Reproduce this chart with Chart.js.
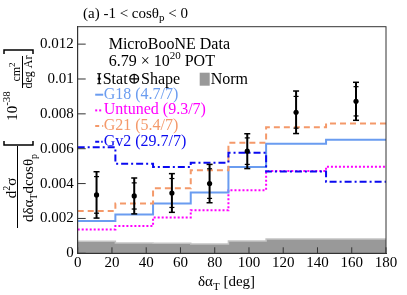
<!DOCTYPE html>
<html><head><meta charset="utf-8">
<script src="https://cdn.jsdelivr.net/npm/chart.js@4"></script>
<style>html,body{margin:0;padding:0;background:#fff}#box{width:407px;height:295px}</style>
</head><body><div id="box"><canvas id="c" width="407" height="295"></canvas></div>
<script>
const SERIF="'Liberation Serif','DejaVu Serif',serif";
const edges=[0,22,44,66,88,110,145,180];
const dataY=[0.00335,0.00329,0.00346,0.0040,0.00586,0.00809,0.00872];
const errTot=[0.00133,0.00103,0.00111,0.0011,0.0010,0.00122,0.00109];
const errStat=[0.00105,0.00075,0.00083,0.00085,0.00076,0.00091,0.00084];
const norm=[0.00069,0.00059,0.00058,0.00053,0.0007,0.00082,0.00082];
const g18=[0.00186,0.00223,0.00286,0.00349,0.00495,0.00629,0.00651];
const untuned=[0.00137,0.00156,0.00206,0.00247,0.00362,0.00472,0.00497];
const g21=[0.00242,0.00286,0.00373,0.00476,0.00634,0.00723,0.00745];
const gv2=[0.00609,0.00514,0.00495,0.0052,0.00577,0.0047,0.00411];
const yTicks=[0,0.002,0.004,0.006,0.008,0.01,0.012];
const xTicks=[0,20,40,60,80,100,120,140,160,180];

const C_G18="#6a9cf0",C_UN="#ff00ff",C_G21="#f4996a",C_GV2="#0a0af0",C_NORM="#999999";
const centers=dataY.map((_,i)=>(edges[i]+edges[i+1])/2);
const hist=v=>edges.map((e,i)=>({x:e,y:v[Math.min(i,v.length-1)]}));
const step=(label,v,col,dash,order)=>({label,data:hist(v),borderColor:col,borderWidth:2,borderDash:dash,
  stepped:true,pointRadius:0,fill:false,order});

// rich text: parts = [text, size, dy]
function rich(ctx,parts,x,y,align){
  let w=0;
  parts.forEach(p=>{ctx.font=p[1]+"px "+SERIF;w+=ctx.measureText(p[0]).width;});
  let cx=align==="center"?x-w/2:x;
  parts.forEach(p=>{ctx.font=p[1]+"px "+SERIF;ctx.fillText(p[0],cx,y+(p[2]||0));cx+=ctx.measureText(p[0]).width;});
  return w;
}
function rot(ctx,parts,sx,sy){
  ctx.save();ctx.translate(sx,sy);ctx.rotate(-Math.PI/2);rich(ctx,parts,0,0,"center");ctx.restore();
}
function line(ctx,x1,y1,x2,y2,col,w,dash){
  ctx.save();ctx.strokeStyle=col;ctx.lineWidth=w;ctx.setLineDash(dash||[]);
  ctx.beginPath();ctx.moveTo(x1,y1);ctx.lineTo(x2,y2);ctx.stroke();ctx.restore();
}

const deco={id:"deco",
  afterDatasetsDraw(ch){
    const ctx=ch.ctx,xs=ch.scales.x,ys=ch.scales.y;
    // error bars
    dataY.forEach((v,i)=>{
      const x=xs.getPixelForValue(centers[i]);
      const t=ys.getPixelForValue(v+errTot[i]),b=ys.getPixelForValue(v-errTot[i]);
      line(ctx,x,t,x,b,"#000",2);
      line(ctx,x-3,t,x+3,t,"#000",1.5);line(ctx,x-3,b,x+3,b,"#000",1.5);
      const st=ys.getPixelForValue(v+errStat[i]),sb=ys.getPixelForValue(v-errStat[i]);
      line(ctx,x-2.5,st,x+2.5,st,"#000",1.2);line(ctx,x-2.5,sb,x+2.5,sb,"#000",1.2);
    });
  },
  afterDraw(ch){
    const ctx=ch.ctx,a=ch.chartArea,xs=ch.scales.x,ys=ch.scales.y;
    ctx.save();
    // frame + inward ticks
    ctx.strokeStyle="#333";ctx.lineWidth=1;ctx.strokeRect(a.left,a.top,a.right-a.left,a.bottom-a.top);
    yTicks.forEach(t=>{const y=ys.getPixelForValue(t);line(ctx,a.left,y,a.left+8,y,"#333",1);});
    xTicks.forEach(t=>{const x=xs.getPixelForValue(t);line(ctx,x,a.bottom,x,a.bottom-6,"#333",1);});
    ctx.fillStyle="#000";ctx.textBaseline="alphabetic";
    // title
    rich(ctx,[["(a) -1 < cos\u03b8",15],["p",11,3],[" < 0",15]],83,18,"left");
    // x title
    rich(ctx,[["\u03b4\u03b1",15],["T",11,4],[" [deg]",15]],198,286,"left");
    // y title
    rot(ctx,[["d",15],["2",10,-6],["\u03c3",15]],16,188);
    line(ctx,17.5,146,17.5,228,"#000",1);
    rot(ctx,[["d\u03b4\u03b1",15],["T",10,4],["dcos\u03b8",15],["p",10,4]],33,188);
    rot(ctx,[["10",15],["-38",11,-7]],16.5,106);
    rot(ctx,[["cm",12],["2",9,-5]],19.5,72);
    line(ctx,22.5,56,22.5,88,"#000",1);
    rot(ctx,[["deg Ar",12]],32,72);
    ctx.strokeStyle="#000";ctx.lineWidth=1.5;
    ctx.beginPath();ctx.moveTo(4,141);ctx.lineTo(4,145);ctx.lineTo(33,145);ctx.lineTo(33,141);ctx.stroke();
    ctx.beginPath();ctx.moveTo(4,54);ctx.lineTo(4,50);ctx.lineTo(33,50);ctx.lineTo(33,54);ctx.stroke();
    // legend
    const L=a.left,T=a.top;
    ctx.fillStyle="#000";
    rich(ctx,[["MicroBooNE Data",16]],L+31,T+22,"left");
    rich(ctx,[["6.79 \u00d7 10",16],["20",11,-7],[" POT",16]],L+31,T+39,"left");
    line(ctx,L+21.5,T+47,L+21.5,T+57,"#000",1.5);
    line(ctx,L+19.5,T+47,L+23.5,T+47,"#000",1);line(ctx,L+19.5,T+57,L+23.5,T+57,"#000",1);
    ctx.fillRect(L+20,T+51,3,2);
    rich(ctx,[["Stat\u2295Shape",16]],L+25,T+57,"left");
    ctx.fillStyle=C_NORM;ctx.fillRect(L+122,T+46,10,13);
    ctx.fillStyle="#000";rich(ctx,[["Norm",16]],L+133,T+57,"left");
    const leg=[["G18 (4.7/7)",C_G18,[]],["Untuned (9.3/7)",C_UN,[2,2]],["G21 (5.4/7)",C_G21,[4,3]],["Gv2 (29.7/7)",C_GV2,[4,2,1.5,2]]];
    leg.forEach((l,i)=>{
      const y=T+72+i*15.7;
      line(ctx,L+17.5,y-4,L+25.5,y-4,l[1],2,l[2]);
      ctx.fillStyle=l[1];rich(ctx,[[l[0],16]],L+26,y,"left");
    });
    ctx.restore();
  }
};

new Chart(document.getElementById("c"),{
  type:"line",
  data:{datasets:[
    {type:"scatter",label:"Data",data:centers.map((c,i)=>({x:c,y:dataY[i]})),pointRadius:2.6,pointBackgroundColor:"#000",pointBorderWidth:0,showLine:false,order:0},
    step("Gv2",gv2,C_GV2,[7,3,2,3],1),
    step("G21",g21,C_G21,[6,4],2),
    step("G18",g18,C_G18,[],3),
    step("Untuned",untuned,C_UN,[2,2],4),
    {label:"Norm",data:hist(norm),borderColor:"#c4c4c4",borderWidth:1.5,backgroundColor:C_NORM,stepped:true,pointRadius:0,fill:"origin",order:5}
  ]},
  options:{responsive:false,devicePixelRatio:1,animation:false,
    layout:{padding:{top:26.7,right:21,left:0,bottom:0}},
    plugins:{legend:{display:false},tooltip:{enabled:false}},
    scales:{
      x:{type:"linear",min:0,max:180,grid:{display:false,drawTicks:false},border:{display:true,color:"#333",width:1},
        afterFit:s=>{s.height=41.7},
        afterBuildTicks:s=>{s.ticks=xTicks.map(v=>({value:v}))},
        ticks:{padding:1,color:"#000",font:{family:SERIF,size:15},maxRotation:0,autoSkip:false}},
      y:{min:0,max:0.013,grid:{display:false,drawTicks:false},border:{display:true,color:"#333",width:1},
        afterFit:s=>{s.width=77.7},
        afterBuildTicks:s=>{s.ticks=yTicks.map(v=>({value:v}))},
        ticks:{padding:4,color:"#000",font:{family:SERIF,size:15},callback:v=>String(+v.toFixed(3))}}
    }},
  plugins:[deco]
});
</script>
</body></html>
